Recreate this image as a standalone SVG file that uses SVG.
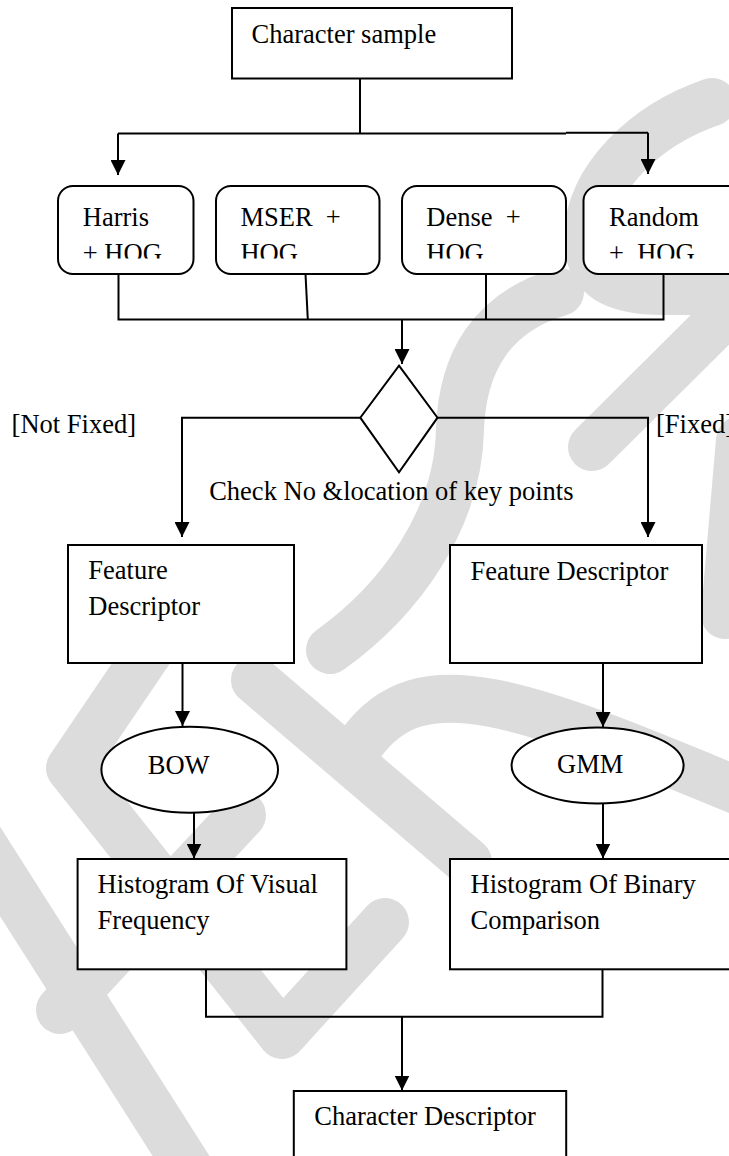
<svg xmlns="http://www.w3.org/2000/svg" width="729" height="1156" viewBox="0 0 729 1156">
  <defs>
    <style>
      .box { fill: #ffffff; stroke: #000000; stroke-width: 2; }
      .wire { fill: none; stroke: #000000; stroke-width: 2; }
      .lbl { font-family: "Liberation Serif", "Times New Roman", serif; font-size: 26.5px; fill: #000000; }
      .wm { fill: none; stroke: #dcdcdc; stroke-width: 48; stroke-linecap: round; stroke-linejoin: round; }
    </style>
    <marker id="arrow" viewBox="0 0 15 15" refX="15" refY="7.5" markerWidth="15" markerHeight="15" markerUnits="userSpaceOnUse" orient="auto">
      <path d="M0,0 L15,7.5 L0,15 Z" fill="#000000"/>
    </marker>
    <clipPath id="lineClip">
      <rect x="0" y="0" width="729" height="258.5"/>
    </clipPath>
  </defs>

  <rect width="729" height="1156" fill="#ffffff"/>

  <!-- background watermark strokes -->
  <g id="watermark">
    <path class="wm" d="M712,102 C645,125 590,178 588,236 C587,278 615,291 665,291 L760,291"/>
    <path class="wm" d="M592,447 L760,280"/>
    <path class="wm" d="M560,292 C492,312 462,362 460,430 C458,520 400,600 330,650"/>
    <path class="wm" d="M740,440 L725,615"/>
    <path class="wm" d="M150,650 L70,768 L282,1035 L385,922"/>
    <path class="wm" d="M242,815 L60,1010"/>
    <path class="wm" d="M-20,840 L190,1170"/>
    <path class="wm" d="M255,680 L468,862"/>
    <path class="wm" d="M360,745 C420,660 520,700 760,800"/>
  </g>

  <!-- connectors -->
  <g id="connectors">
    <path class="wire" d="M360,78.5 V133.5"/>
    <path class="wire" d="M118,133.5 H566 M566,132.8 H648"/>
    <path class="wire" d="M118,133.5 V175" marker-end="url(#arrow)"/>
    <path class="wire" d="M648,132.8 V174" marker-end="url(#arrow)"/>

    <path class="wire" d="M118.5,274 V319.5 H663.5 V274"/>
    <path class="wire" d="M305.5,274 L307.8,319.5"/>
    <path class="wire" d="M486,274 V319.5"/>
    <path class="wire" d="M402,319.5 V364" marker-end="url(#arrow)"/>

    <path class="wire" d="M360.3,417.7 H182 V537" marker-end="url(#arrow)"/>
    <path class="wire" d="M437.5,417.7 H648 V537" marker-end="url(#arrow)"/>

    <path class="wire" d="M182.5,663 V726" marker-end="url(#arrow)"/>
    <path class="wire" d="M603,663 V727" marker-end="url(#arrow)"/>
    <path class="wire" d="M194,812.5 V858.5" marker-end="url(#arrow)"/>
    <path class="wire" d="M603,803.5 V858.5" marker-end="url(#arrow)"/>

    <path class="wire" d="M206,969.5 V1016.7 H602.5 V969.5"/>
    <path class="wire" d="M402,1016.7 V1090.5" marker-end="url(#arrow)"/>
  </g>

  <!-- nodes -->
  <g id="character-sample">
    <rect class="box" x="232" y="8" width="280" height="70.5"/>
    <text class="lbl" x="251.5" y="43">Character sample</text>
  </g>

  <g id="harris-hog">
    <rect class="box" x="58" y="186" width="135.5" height="88" rx="15" ry="15"/>
    <text class="lbl" x="82.8" y="226">Harris</text>
    <text class="lbl" x="82.8" y="261.5" clip-path="url(#lineClip)" xml:space="preserve">+ HOG</text>
  </g>

  <g id="mser-hog">
    <rect class="box" x="216" y="186" width="163.5" height="88" rx="15" ry="15"/>
    <text class="lbl" x="240.4" y="226" xml:space="preserve">MSER  +</text>
    <text class="lbl" x="240.4" y="261.5" clip-path="url(#lineClip)">HOG</text>
  </g>

  <g id="dense-hog">
    <rect class="box" x="402" y="186" width="164" height="88" rx="15" ry="15"/>
    <text class="lbl" x="426.3" y="226" xml:space="preserve">Dense  +</text>
    <text class="lbl" x="426.3" y="261.5" clip-path="url(#lineClip)">HOG</text>
  </g>

  <g id="random-hog">
    <rect class="box" x="583.5" y="186" width="160" height="88" rx="15" ry="15"/>
    <text class="lbl" x="609" y="226">Random</text>
    <text class="lbl" x="609" y="261.5" clip-path="url(#lineClip)" xml:space="preserve">+  HOG</text>
  </g>

  <g id="decision">
    <path class="box" d="M399,365.7 L437.5,417.7 L399,472.3 L360.3,417.7 Z"/>
    <text class="lbl" x="209.2" y="500">Check No &amp;location of key points</text>
    <text class="lbl" x="11.6" y="433.3">[Not Fixed]</text>
    <text class="lbl" x="656" y="433.3">[Fixed]</text>
  </g>

  <g id="feature-descriptor-left">
    <rect class="box" x="68" y="545" width="226" height="118"/>
    <text class="lbl" x="88.3" y="579.3">Feature</text>
    <text class="lbl" x="88.3" y="614.5">Descriptor</text>
  </g>

  <g id="feature-descriptor-right">
    <rect class="box" x="450" y="545" width="252" height="118"/>
    <text class="lbl" x="470.5" y="580">Feature Descriptor</text>
  </g>

  <g id="bow">
    <ellipse class="box" cx="189.7" cy="769.7" rx="88.3" ry="43"/>
    <text class="lbl" x="147.8" y="774.3">BOW</text>
  </g>

  <g id="gmm">
    <ellipse class="box" cx="597.6" cy="765.5" rx="86" ry="38"/>
    <text class="lbl" x="557" y="773.3">GMM</text>
  </g>

  <g id="histogram-visual">
    <rect class="box" x="77.6" y="859" width="268.8" height="110.3"/>
    <text class="lbl" x="97.6" y="893.3">Histogram Of Visual</text>
    <text class="lbl" x="97.6" y="929.3">Frequency</text>
  </g>

  <g id="histogram-binary">
    <rect class="box" x="450" y="859" width="300" height="110.3"/>
    <text class="lbl" x="470.5" y="893.3">Histogram Of Binary</text>
    <text class="lbl" x="470.5" y="929.3">Comparison</text>
  </g>

  <g id="character-descriptor">
    <rect class="box" x="293.8" y="1091" width="272.4" height="80"/>
    <text class="lbl" x="314.3" y="1125">Character Descriptor</text>
  </g>
</svg>
